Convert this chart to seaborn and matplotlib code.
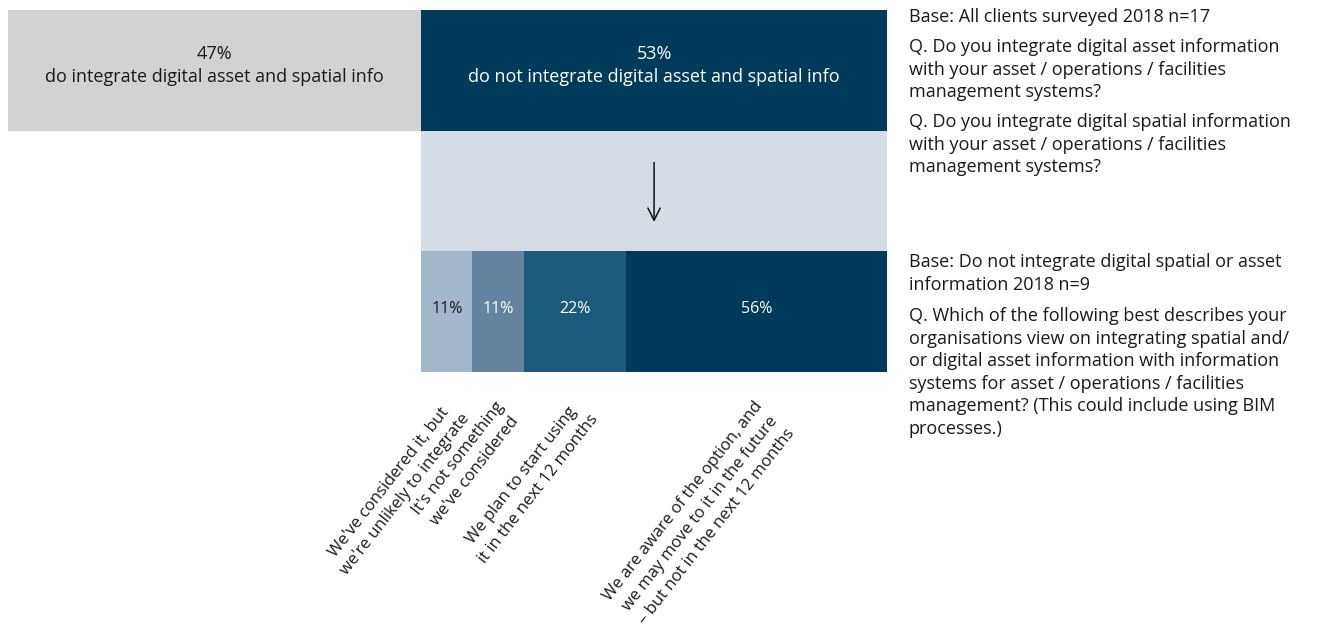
import matplotlib
matplotlib.use("Agg")
import numpy as np
import seaborn as sns
import matplotlib.pyplot as plt

# datos
rows = ["top", "middle", "bottom"]
top_values = [47, 53]
top_labels = ["do integrate digital asset and spatial info",
              "do not integrate digital asset and spatial info"]
top_colors = ["#d1d2d4", "#003b5c"]
top_text_colors = ["#1a1a1a", "white"]

bottom_values = [11, 11, 22, 56]
bottom_labels = ["We've considered it, but\nwe're unlikely to integrate",
                 "It's not something\nwe've considered",
                 "We plan to start using\nit in the next 12 months",
                 "We are aware of the option, and\nwe may move to it in the future\n\u2013 but not in the next 12 months"]
bottom_colors = ["#a4b6c9", "#63839f", "#1b5c7e", "#003b5c"]
bottom_text_colors = ["#1a1a1a", "white", "white", "white"]

band_color = "#d4dce5"

notes_top = ["Base: All clients surveyed 2018 n=17",
             "Q. Do you integrate digital asset information\nwith your asset / operations / facilities\nmanagement systems?",
             "Q. Do you integrate digital spatial information\nwith your asset / operations / facilities\nmanagement systems?"]
notes_bottom = ["Base: Do not integrate digital spatial or asset\ninformation 2018 n=9",
                "Q. Which of the following best describes your\norganisations view on integrating spatial and/\nor digital asset information with information\nsystems for asset / operations / facilities\nmanagement? (This could include using BIM\nprocesses.)"]

sns.set_theme(style="white")
plt.rcParams["font.family"] = ["Open Sans", "DejaVu Sans"]

W, H = 1317, 630
fig = plt.figure(figsize=(W / 100, H / 100), dpi=100)
ax = fig.add_axes([8 / W, 1 - 372 / H, 879 / W, 362 / H])

def seg(value, row, left, color):
    sns.barplot(x=[value], y=[row], order=rows, orient="y", left=left, width=1,
                color=color, saturation=1, errorbar=None, linewidth=0, ax=ax)

# barra superior
top_left = np.concatenate([[0], np.cumsum(top_values)[:-1]])
for v, l, c, lab, tc in zip(top_values, top_left, top_colors, top_labels, top_text_colors):
    seg(v, "top", l, c)
    ax.text(l + v / 2, -0.04, f"{v}%\n{lab}", ha="center", va="center",
            color=tc, fontsize=13, linespacing=1.3)

# franja intermedia
seg(top_values[1], "middle", top_values[0], band_color)
xc = top_values[0] + top_values[1] / 2
ax.annotate("", xy=(xc, 1.28), xytext=(xc, 0.74),
            arrowprops=dict(arrowstyle="->", lw=1.1, color="#111111", mutation_scale=22))

# barra inferior (escalada al 53%)
widths = np.array(bottom_values) / 100 * top_values[1]
lefts = top_values[0] + np.concatenate([[0], np.cumsum(widths)[:-1]])
for v, w, l, c, lab, tc in zip(bottom_values, widths, lefts, bottom_colors,
                               bottom_labels, bottom_text_colors):
    seg(w, "bottom", l, c)
    ax.text(l + w / 2, 1.98, f"{v}%", ha="center", va="center", color=tc, fontsize=11.5)
    ax.annotate(lab, xy=(l + w / 2, 2.5), xytext=(-2, -19), textcoords="offset points",
                rotation=52, rotation_mode="anchor", ha="right", va="top",
                multialignment="center", fontsize=12, linespacing=1.4,
                annotation_clip=False, color="#1a1a1a")

ax.set_xlim(0, 100)
ax.set_ylim(2.5, -0.5)
ax.set_axis_off()

# notas a la derecha
x0 = 909 / W
for txt, ypx in zip(notes_top + notes_bottom, [8, 38, 113, 253, 307]):
    fig.text(x0, 1 - ypx / H, txt, ha="left", va="top", fontsize=13,
             linespacing=1.33, color="#1a1a1a")

fig.savefig("out.png", dpi=100)
